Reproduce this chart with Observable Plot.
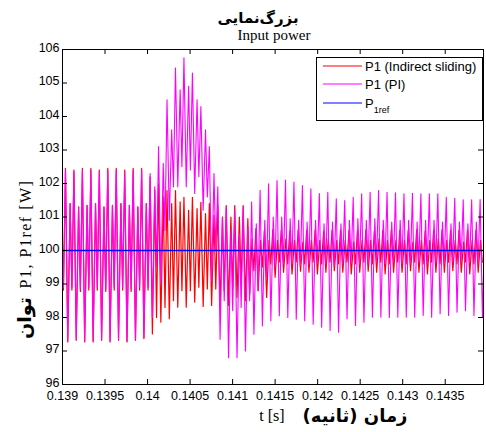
<!DOCTYPE html>
<html>
<head>
<meta charset="utf-8">
<script src="https://cdn.jsdelivr.net/npm/d3@7"></script>
<script src="https://cdn.jsdelivr.net/npm/@observablehq/plot@0.6"></script>
<style>
  body { margin: 0; background: #fff; }
  #chart { position: relative; width: 486px; height: 432px; }
</style>
</head>
<body>
<div id="chart"></div>
<script>
// ---- tick values and labels ----
const xTicks = [0.139, 0.1395, 0.14, 0.1405, 0.141, 0.1415, 0.142, 0.1425, 0.143, 0.1435];
const xTickLabels = ["0.139", "0.1395", "0.14", "0.1405", "0.141", "0.1415", "0.142", "0.1425", "0.143", "0.1435"];
const yTicks = [96, 97, 98, 99, 100, 101, 102, 103, 104, 105, 106];
const yTickLabels = ["96", "97", "98", "99", "100", "101", "102", "103", "104", "105", "106"];

// ---- text ----
const titleFa = "بزرگ\u200Cنمایی";
const titleEn = "Input power";
const xLabelEn = "t [s]";
const xLabelFa = "زمان (ثانیه)";
const yLabelEn = "P1, P1ref [W]";
const yLabelFa = "توان";
const seriesNames = ["P1 (Indirect sliding)", "P1 (PI)", "P"];
const refSub = "1ref";

// ---- data: oscillation cycles (one entry per cycle) ----
const cycleStart = 0.1389355;   // time of first cycle's main peak
const cyclePeriod = 0.0000995;  // ~10 kHz oscillation

// PI controller (magenta)
const piPeak = [102.4, 102.4, 102.35, 102.4, 102.4, 102.35, 102.4, 102.4, 102.35, 102.4, 102.4,
  102.3, 103.1, 104.5, 105.45, 105.75, 105.3, 104.3, 103.1, 101.9, 101.3,
  101.2, 101.3, 101.45, 101.8, 101.99, 102.09, 102.1, 102.04, 101.94, 101.84,
  101.7, 101.74, 101.54, 101.49, 101.59, 101.69, 101.74, 101.79, 101.74, 101.72,
  101.69, 101.71, 101.69, 101.69, 101.69, 101.59, 101.56, 101.51, 101.51, 101.52];
const piTrough = [97.35, 97.3, 97.35, 97.3, 97.3, 97.35, 97.3, 97.35, 97.3, 97.35, 97.4,
  98.0, 99.0, 100.9, 101.9, 101.9, 101.7, 101.2, 99.1, 97.35, 96.8,
  96.8, 97.0, 97.5, 97.75, 97.9, 98.05, 98.0, 97.95, 97.9, 97.8,
  97.71, 97.61, 97.56, 97.96, 97.76, 97.86, 98.01, 98.01, 98.0, 98.01,
  98.01, 98.01, 98.06, 98.01, 98.11, 98.06, 98.16, 98.2, 98.06, 98.01];
const piSubPeak = [101.35, 101.4, 101.3, 101.35, 101.4, 101.3, 101.35, 101.4, 101.35, 101.3, 101.4,
  101.9, 102.6, 103.6, 104.8, 104.9, 104.5, 103.6, 102.3, 101.0, 100.6,
  100.5, 100.7, 100.8, 100.9, 101.0, 101.0, 100.95, 100.9, 100.85, 100.9,
  100.8, 100.85, 100.8, 100.9, 100.95, 100.9, 100.95, 100.9, 100.85, 100.9,
  100.9, 100.85, 100.9, 100.9, 100.85, 100.8, 100.85, 100.8, 100.85, 100.8];
const piSubTrough = [98.9, 98.9, 98.85, 98.9, 98.9, 98.85, 98.9, 98.9, 98.85, 98.9, 98.9,
  99.5, 100.6, 101.9, 102.5, 102.4, 102.2, 101.6, 100.0, 98.5, 98.2,
  98.3, 98.5, 98.8, 99.2, 99.5, 99.6, 99.6, 99.55, 99.6, 99.65,
  99.6, 99.55, 99.6, 99.65, 99.6, 99.6, 99.65, 99.6, 99.65, 99.6,
  99.6, 99.65, 99.6, 99.65, 99.6, 99.65, 99.7, 99.65, 99.6, 99.6];

// Indirect sliding mode controller (red)
const smcPeak = [102.45, 102.45, 102.4, 102.45, 102.45, 102.4, 102.45, 102.45, 102.4, 102.45, 102.45,
  102.2, 101.99, 101.79, 101.79, 101.59, 101.59, 101.44, 101.4, 101.35, 101.34,
  101.34, 101.34, 100.7, 100.65, 100.6, 100.62, 100.6, 100.58, 100.62, 100.6,
  100.62, 100.58, 100.6, 100.62, 100.6, 100.6, 100.62, 100.58, 100.6, 100.62,
  100.6, 100.6, 100.62, 100.58, 100.6, 100.62, 100.6, 100.6, 100.62, 100.6];
const smcTrough = [97.32, 97.27, 97.32, 97.27, 97.27, 97.32, 97.27, 97.32, 97.27, 97.32, 97.37,
  97.51, 97.86, 97.96, 98.31, 98.31, 98.46, 98.33, 98.36, 98.31, 98.36,
  98.6, 98.5, 98.7, 98.8, 98.6, 99.2, 99.35, 99.3, 99.38, 99.35,
  99.3, 99.35, 99.4, 99.35, 99.3, 99.35, 99.38, 99.35, 99.3, 99.35,
  99.35, 99.4, 99.35, 99.3, 99.35, 99.35, 99.4, 99.35, 99.3, 99.35];
const smcSubPeak = [101.35, 101.4, 101.3, 101.35, 101.4, 101.3, 101.35, 101.4, 101.35, 101.3, 101.4,
  101.8, 101.6, 101.4, 101.45, 101.2, 101.25, 101.1, 101.05, 101.0, 101.0,
  101.0, 100.95, 100.35, 100.3, 100.3, 100.3, 100.35, 100.3, 100.25, 100.3,
  100.3, 100.35, 100.3, 100.3, 100.25, 100.3, 100.3, 100.35, 100.3, 100.3,
  100.3, 100.25, 100.3, 100.3, 100.35, 100.3, 100.3, 100.25, 100.3, 100.3];
const smcSubTrough = [98.82, 98.82, 98.78, 98.82, 98.82, 98.78, 98.82, 98.82, 98.78, 98.82, 98.82,
  98.0, 98.3, 98.5, 98.8, 98.8, 98.9, 98.85, 98.85, 98.8, 98.85,
  99.0, 99.0, 99.4, 99.5, 99.6, 99.65, 99.6, 99.65, 99.6, 99.65,
  99.6, 99.65, 99.6, 99.65, 99.6, 99.65, 99.6, 99.65, 99.6, 99.65,
  99.6, 99.65, 99.6, 99.65, 99.6, 99.65, 99.6, 99.65, 99.6, 99.65];

const pRef = 100;

// ---- build line tables from cycle extrema ----
const shape = [0, 0.27, 0.55, 0.76]; // position of each extremum within a cycle
function buildSeries(peak, trough, subPeak, subTrough, lateShift, lateFrom) {
  const rows = [];
  for (let k = 0; k < peak.length; k++) {
    const shift = k >= lateFrom ? lateShift : 0;
    const t = cycleStart + (k + shift) * cyclePeriod;
    rows.push({t: t + shape[0] * cyclePeriod, v: peak[k]});
    rows.push({t: t + shape[1] * cyclePeriod, v: trough[k]});
    rows.push({t: t + shape[2] * cyclePeriod, v: subPeak[k]});
    rows.push({t: t + shape[3] * cyclePeriod, v: subTrough[k]});
  }
  return rows;
}
const smcRows = buildSeries(smcPeak, smcTrough, smcSubPeak, smcSubTrough, -0.5, 23);
const piRows = buildSeries(piPeak, piTrough, piSubPeak, piSubTrough, 0, 0);

const W = 486, H = 432;
const mL = 62, mR = 3, mT = 49, mB = 48;
const innerH = H - mT - mB, innerW = W - mL - mR;
const tick = 5;

const chart = Plot.plot({
  width: W, height: H,
  marginLeft: mL, marginRight: mR, marginTop: mT, marginBottom: mB,
  x: {domain: [0.139, 0.14395]},
  y: {domain: [96, 106]},
  style: {fontFamily: "'Liberation Sans', Arial, sans-serif", fontSize: "12.5px", color: "#000", background: "#fff"},
  marks: [
    Plot.line(smcRows, {x: "t", y: "v", stroke: "#ff0000", strokeWidth: 1.2, clip: true}),
    Plot.line(piRows, {x: "t", y: "v", stroke: "#ff00ff", strokeWidth: 1.1, clip: true}),
    Plot.ruleY([pRef], {stroke: "#0000ff", strokeWidth: 1.3}),
    Plot.frame({stroke: "#000", strokeWidth: 1}),
    Plot.tickX(xTicks, {x: d => d, insetTop: innerH - tick, stroke: "#000"}),
    Plot.tickX(xTicks, {x: d => d, insetBottom: innerH - tick, stroke: "#000"}),
    Plot.tickY(yTicks, {y: d => d, insetRight: innerW - tick, stroke: "#000"}),
    Plot.tickY(yTicks, {y: d => d, insetLeft: innerW - tick, stroke: "#000"}),
    Plot.axisX({ticks: xTicks, tickFormat: d => xTickLabels[xTicks.indexOf(d)], tickSize: 0, tickPadding: 7, label: null}),
    Plot.axisY({ticks: yTicks, tickFormat: d => yTickLabels[yTicks.indexOf(d)], tickSize: 0, tickPadding: 3, dy: -2, label: null})
  ]
});
document.getElementById("chart").appendChild(chart);

// ---- titles, axis labels and legend ----
const svg = d3.select(chart);
const fa = "'DejaVu Sans', sans-serif";
const serif = "'Liberation Serif', 'Times New Roman', serif";
const sans = "'Liberation Sans', Arial, sans-serif";

svg.append("text").attr("x", 258).attr("y", 23).attr("text-anchor", "middle")
  .style("font-family", fa).style("font-weight", "bold").style("font-size", "15px").text(titleFa);
svg.append("text").attr("x", 274).attr("y", 40).attr("text-anchor", "middle")
  .style("font-family", serif).style("font-size", "15px").text(titleEn);

svg.append("text").attr("x", 272).attr("y", 421).attr("text-anchor", "middle")
  .style("font-family", serif).style("font-size", "16px").text(xLabelEn);
svg.append("text").attr("x", 355).attr("y", 422).attr("text-anchor", "middle")
  .style("font-family", fa).style("font-weight", "bold").style("font-size", "18px").text(xLabelFa);

svg.append("text").attr("transform", "translate(31,234) rotate(-90)").attr("text-anchor", "middle")
  .style("font-family", serif).style("font-size", "16px").style("letter-spacing", "1.5px").text(yLabelEn);
svg.append("text").attr("transform", "translate(31,318) rotate(-90)").attr("text-anchor", "middle")
  .style("font-family", fa).style("font-weight", "bold").style("font-size", "19px").text(yLabelFa);

const lg = svg.append("g");
lg.append("rect").attr("x", 316.5).attr("y", 57.5).attr("width", 166).attr("height", 63)
  .style("fill", "#ffffff").style("stroke", "#000000").style("stroke-width", "1px");
const legendColors = ["#ff0000", "#ff00ff", "#0000ff"];
const legendY = [66, 84, 103];
seriesNames.forEach((name, i) => {
  lg.append("line").attr("x1", 323).attr("x2", 362).attr("y1", legendY[i]).attr("y2", legendY[i])
    .style("stroke", legendColors[i]).style("stroke-width", "1.2px");
  const t = lg.append("text").attr("x", 365).attr("y", legendY[i] + 4.5).attr("text-anchor", "start")
    .style("font-family", sans).style("font-size", "13px").style("fill", "#000").text(name);
  if (i === 2) t.append("tspan").attr("dy", 5).style("font-size", "9px").text(refSub);
});
</script>
</body>
</html>
